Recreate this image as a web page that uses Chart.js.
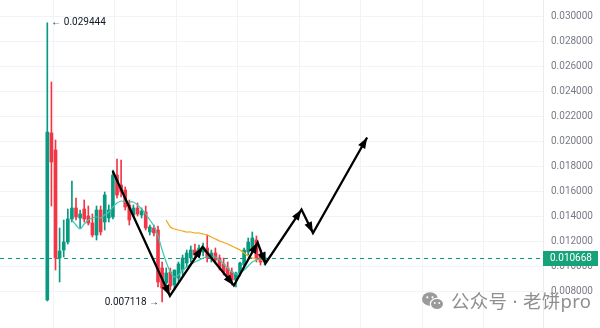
<!DOCTYPE html>
<html>
<head>
<meta charset="utf-8">
<script src="https://cdn.jsdelivr.net/npm/chart.js@4.4.1/dist/chart.umd.min.js"></script>
<style>
html,body{margin:0;padding:0;background:#fff;overflow:hidden;}
#wrap{position:relative;width:600px;height:328px;}
#wm{position:absolute;left:422px;top:289px;display:flex;align-items:center;font-family:"Noto Sans","Noto Sans CJK SC",sans-serif;font-size:18.5px;color:#8f8f8f;white-space:nowrap;line-height:24px;letter-spacing:0.3px;}
#wm svg{margin-right:7px;}
</style>
</head>
<body>
<div id="wrap">
<canvas id="c" width="600" height="328"></canvas>
<div id="wm"><svg width="22" height="20" viewBox="0 0 22 20"><ellipse cx="8" cy="8" rx="8" ry="6.8" fill="#9a9a9a"/><circle cx="5.3" cy="6.3" r="1.1" fill="#fff"/><circle cx="10.5" cy="6.3" r="1.1" fill="#fff"/><ellipse cx="15" cy="13" rx="6.6" ry="5.6" fill="#9a9a9a" stroke="#fff" stroke-width="1.2"/><circle cx="12.8" cy="12" r="0.9" fill="#fff"/><circle cx="17.2" cy="12" r="0.9" fill="#fff"/></svg><span>公众号 · 老饼pro</span></div>
</div>
<script>
// ---- data ----
const opens  = [0.00728,0.02064,0.01928,0.01064,0.01128,0.01192,0.01376,0.01464,0.01384,0.01456,0.0140,0.01344,0.01248,0.01448,0.01352,0.01384,0.01392,0.01728,0.01648,0.01608,0.01488,0.01408,0.01464,0.01408,0.01432,0.01272,0.01304,0.01288,0.00984,0.00864,0.00952,0.00848,0.00904,0.00968,0.01024,0.01064,0.01128,0.01088,0.01112,0.01144,0.01064,0.01104,0.01064,0.01016,0.00984,0.00952,0.00888,0.00944,0.01008,0.01112,0.01128,0.01208,0.0108,0.01032];
const highs  = [0.029444,0.02472,0.02008,0.01304,0.01368,0.01456,0.0168,0.01544,0.01448,0.01528,0.0148,0.01416,0.0148,0.0148,0.01592,0.01488,0.01768,0.01856,0.01848,0.01632,0.01528,0.01488,0.01504,0.01464,0.0148,0.01328,0.01328,0.0132,0.01032,0.00984,0.00984,0.00968,0.01032,0.01088,0.01128,0.0116,0.01176,0.01168,0.01184,0.01248,0.01128,0.01144,0.01088,0.01064,0.01032,0.00984,0.00952,0.01032,0.01144,0.01224,0.01272,0.0124,0.01128,0.01112];
const lows   = [0.0072,0.0148,0.00968,0.00872,0.01072,0.01176,0.01352,0.01368,0.01304,0.01352,0.01328,0.01232,0.01208,0.01248,0.01288,0.01352,0.01376,0.01544,0.01552,0.01448,0.01328,0.01392,0.0140,0.01384,0.01288,0.01248,0.0124,0.00832,0.007118,0.00824,0.00808,0.00808,0.00872,0.00928,0.00992,0.01032,0.01064,0.01064,0.0108,0.01032,0.01032,0.01032,0.00968,0.00928,0.00888,0.00848,0.00832,0.0092,0.00984,0.01088,0.01112,0.01032,0.01008,0.01008];
const closes = [0.02072,0.01832,0.01064,0.0112,0.01192,0.01376,0.01464,0.01392,0.01416,0.01376,0.01344,0.01248,0.01448,0.01272,0.01568,0.01448,0.01728,0.01568,0.01592,0.01472,0.01368,0.01464,0.01416,0.0144,0.01304,0.01312,0.01264,0.00872,0.00824,0.00944,0.0084,0.00968,0.01016,0.01064,0.01104,0.01128,0.01088,0.01144,0.01152,0.01064,0.01104,0.01048,0.00992,0.00952,0.00912,0.00888,0.00944,0.01024,0.01128,0.01192,0.01224,0.01064,0.01032,0.010668];
const maFast = [null,null,null,null,null,null,0.01368,0.01328,0.01296,0.01336,0.01368,0.01384,0.01392,0.01384,0.01408,0.01432,0.01472,0.01504,0.0152,0.01512,0.01512,0.01512,0.01488,0.01456,0.01416,0.01368,0.0132,0.0124,0.01128,0.01032,0.00952,0.00912,0.00928,0.00968,0.00992,0.01016,0.01032,0.01048,0.01064,0.01072,0.01072,0.01072,0.01048,0.01016,0.00984,0.00952,0.00936,0.00944,0.00968,0.0100,0.01032,0.01048,0.01056,0.01072];
const maSlow = [null,null,null,null,null,null,null,null,null,null,null,null,null,null,null,null,null,null,null,null,null,null,null,null,null,null,null,null,null,0.01368,0.01312,0.01296,0.01288,0.0128,0.01272,0.01272,0.01264,0.01264,0.01256,0.01248,0.01232,0.01216,0.0120,0.01188,0.01176,0.0116,0.01144,0.01128,0.01104,0.0108,0.01064,0.01056,0.01048,0.0104];
const arrowX = [15.95,29.9,37.85,45.5,51.3,53.2,62.0,64.8,78.0];
const arrowY = [0.0176,0.0076,0.01152,0.00844,0.01188,0.0102,0.01452,0.01264,0.02028];
const yTicks = [0.008,0.010,0.012,0.014,0.016,0.018,0.020,0.022,0.024,0.026,0.028,0.030];
const xGrid  = [1.5,16.5,31.5,46.5,61.5,76.5,91.5,106.5];
const lastPrice = 0.010668;
const highLabel = 0.029444;
const lowLabel = 0.007118;

const GREEN = '#089981', RED = '#f23645';
const idx = opens.map((_, i) => i);
const cols = idx.map(i => closes[i] >= opens[i] ? GREEN : RED);

const bodies = idx.map(i => ({x: i, y: [opens[i], closes[i]]}));
const wicks  = idx.map(i => ({x: i, y: [lows[i], highs[i]]}));
const fastPts = idx.filter(i => maFast[i] !== null).map(i => ({x: i, y: maFast[i]}));
const slowPts = idx.filter(i => maSlow[i] !== null).map(i => ({x: i, y: maSlow[i]}));
const arrowPts = arrowX.map((x, i) => ({x: x, y: arrowY[i]}));

const overlay = {
  id: 'overlay',
  beforeDatasetsDraw(chart) {
    const {ctx, chartArea: a, scales: {y}} = chart;
    const py = Math.round(y.getPixelForValue(lastPrice)) + 0.5;
    ctx.save();
    ctx.strokeStyle = GREEN; ctx.lineWidth = 1; ctx.setLineDash([4, 4]);
    ctx.beginPath(); ctx.moveTo(a.left, py); ctx.lineTo(a.right, py); ctx.stroke();
    ctx.restore();
  },
  afterDatasetsDraw(chart) {
    const {ctx, scales: {x, y}} = chart;
    const meta = chart.getDatasetMeta(0);
    ctx.save();
    ctx.fillStyle = '#000';
    for (let i = 1; i < meta.data.length; i++) {
      const p0 = meta.data[i - 1], p1 = meta.data[i];
      const ang = Math.atan2(p1.y - p0.y, p1.x - p0.x);
      const L = 11, W = 4;
      ctx.beginPath();
      ctx.moveTo(p1.x, p1.y);
      ctx.lineTo(p1.x - L * Math.cos(ang) + W * Math.sin(ang), p1.y - L * Math.sin(ang) - W * Math.cos(ang));
      ctx.lineTo(p1.x - L * Math.cos(ang) - W * Math.sin(ang), p1.y - L * Math.sin(ang) + W * Math.cos(ang));
      ctx.closePath(); ctx.fill();
    }
    const hi = highs.indexOf(Math.max(...highs));
    const lo = lows.indexOf(Math.min(...lows));
    ctx.font = '10px Roboto, sans-serif';
    ctx.fillStyle = '#131722';
    ctx.textBaseline = 'middle';
    ctx.textAlign = 'left';
    ctx.fillText('← ' + highLabel.toFixed(6), x.getPixelForValue(hi) + 4, y.getPixelForValue(highLabel));
    ctx.textAlign = 'right';
    ctx.fillText(lowLabel.toFixed(6) + ' →', x.getPixelForValue(lo) - 3, y.getPixelForValue(lowLabel));
    ctx.restore();
  },
  afterDraw(chart) {
    const {ctx, chartArea: a, scales: {y}} = chart;
    const py = y.getPixelForValue(lastPrice);
    ctx.save();
    ctx.fillStyle = '#16a37a';
    ctx.fillRect(a.right, Math.round(py) - 7, 55, 15);
    ctx.fillStyle = '#fff';
    ctx.font = '10px Roboto, sans-serif';
    ctx.textBaseline = 'middle';
    ctx.textAlign = 'left';
    ctx.fillText(lastPrice.toFixed(6), a.right + 7, Math.round(py) + 0.5);
    ctx.restore();
  }
};

new Chart(document.getElementById('c'), {
  type: 'bar',
  data: {
    datasets: [
      {type: 'line', data: arrowPts, borderColor: '#000', borderWidth: 2.3, pointRadius: 0, tension: 0, order: 0, borderJoinStyle: 'miter'},
      {type: 'line', data: fastPts, borderColor: '#3cc8b4', borderWidth: 1.2, pointRadius: 0, tension: 0.3, order: 1},
      {type: 'line', data: slowPts, borderColor: '#f2a516', borderWidth: 1.2, pointRadius: 0, tension: 0.3, order: 1},
      {type: 'bar', data: bodies, backgroundColor: cols, barThickness: 3, grouped: false, borderWidth: 0, borderSkipped: false, order: 2},
      {type: 'bar', data: wicks, backgroundColor: cols, barThickness: 1, grouped: false, borderWidth: 0, borderSkipped: false, order: 3}
    ]
  },
  options: {
    responsive: false,
    animation: false,
    devicePixelRatio: 1,
    layout: {padding: 0},
    plugins: {legend: {display: false}, tooltip: {enabled: false}},
    scales: {
      x: {
        type: 'linear', min: -11.54, max: 120.9, offset: false,
        afterBuildTicks: s => { s.ticks = xGrid.map(v => ({value: v})); },
        afterFit: s => { s.height = 0; s.paddingLeft = 0; s.paddingRight = 0; },
        ticks: {display: false},
        grid: {color: '#f0f3f7', drawTicks: false, offset: false},
        border: {display: false}
      },
      y: {
        position: 'right', min: 0.00504, max: 0.03128,
        afterBuildTicks: s => { s.ticks = yTicks.map(v => ({value: v})); },
        afterFit: s => { s.width = 57; s.paddingTop = 0; s.paddingBottom = 0; },
        ticks: {callback: v => Number(v).toFixed(6), color: '#787b86', font: {family: 'Roboto', size: 10}, padding: 8},
        grid: {color: '#f0f3f7', drawTicks: false},
        border: {color: '#e9edf2'}
      }
    }
  },
  plugins: [overlay]
});
</script>
</body>
</html>
